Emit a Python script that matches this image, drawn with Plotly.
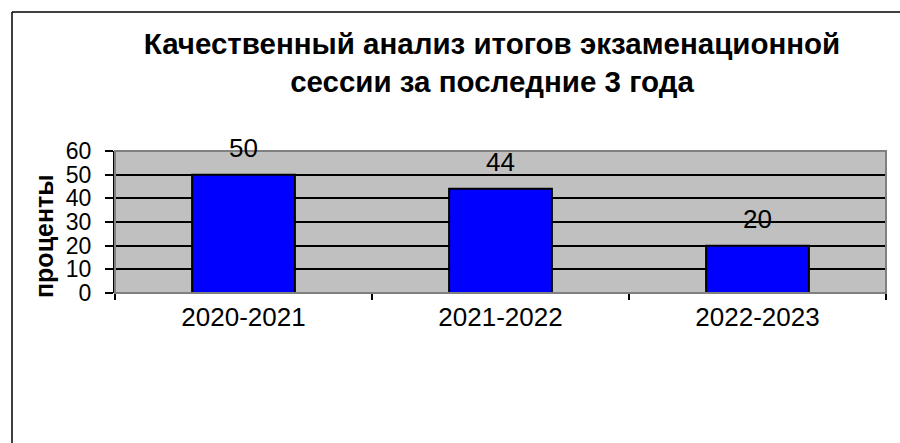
import plotly.graph_objects as go

categories = ["2020-2021", "2021-2022", "2022-2023"]
values = [50, 44, 20]
y_ticks = [0, 10, 20, 30, 40, 50, 60]
title_text = "Качественный анализ итогов экзаменационной<br>сессии за последние 3 года"
y_title = "проценты"

FONT = "Liberation Sans, Arial, sans-serif"

W, H = 900, 443
L, R, T, B = 115, 14, 151, 150
pw = W - L - R
ph = H - T - B

def px_x(x):
    return (x - L) / pw

def px_y(y):
    return (H - B - y) / ph

fig = go.Figure()
fig.add_trace(go.Bar(
    x=categories, y=values,
    marker=dict(color="#0000FF", line=dict(color="#000000", width=2)),
    width=0.4,
    hoverinfo="x+y",
))

for c, v in zip(categories, values):
    fig.add_annotation(
        x=c, y=v, xref="x", yref="y", text=str(v), showarrow=False,
        yanchor="bottom", yshift=10,
        font=dict(family=FONT, size=26, color="#000000"),
    )

fig.add_annotation(
    x=px_x(44), y=px_y(236), xref="paper", yref="paper",
    xanchor="center", yanchor="middle",
    text=f"<b>{y_title}</b>", textangle=-90, showarrow=False,
    font=dict(family=FONT, size=25, color="#000000"),
)

# outer frame (top and left borders)
fig.add_shape(type="line", xref="paper", yref="paper",
              x0=px_x(12), x1=px_x(900), y0=px_y(12), y1=px_y(12),
              line=dict(color="#000000", width=1.5))
fig.add_shape(type="line", xref="paper", yref="paper",
              x0=px_x(12), x1=px_x(12), y0=px_y(12), y1=px_y(443),
              line=dict(color="#000000", width=1.5))
# plot area border (gray)
fig.add_shape(type="rect", xref="paper", yref="paper",
              x0=0, x1=1, y0=0, y1=1, layer="above",
              line=dict(color="#808080", width=2))

fig.update_layout(
    width=W, height=H,
    margin=dict(l=L, r=R, t=T, b=B),
    paper_bgcolor="#FFFFFF",
    plot_bgcolor="#C0C0C0",
    showlegend=False,
    title=dict(
        text=f"<b>{title_text}</b>",
        x=492 / W, xanchor="center", y=1 - 54 / H, yanchor="middle",
        xref="container", yref="container",
        font=dict(family=FONT, size=29.5, color="#000000"),
    ),
    xaxis=dict(
        type="category",
        tickson="boundaries",
        ticks="outside", ticklen=6, tickwidth=1.5, tickcolor="#000000",
        showgrid=False,
        showline=False,
        tickfont=dict(family=FONT, size=26, color="#000000"),
        ticklabelstandoff=6,
    ),
    yaxis=dict(
        range=[0, 60],
        tickvals=y_ticks,
        ticks="outside", ticklen=8, tickwidth=1.5, tickcolor="#000000",
        showgrid=True, gridcolor="#000000", gridwidth=1.5,
        showline=True, linecolor="#000000", linewidth=2,
        zeroline=False,
        tickfont=dict(family=FONT, size=23, color="#000000"),
        ticklabelstandoff=9,
    ),
)

fig.write_html(
    "out.html",
    config={"displayModeBar": False},
    post_script="document.body.style.margin='0';document.body.style.padding='0';",
)
